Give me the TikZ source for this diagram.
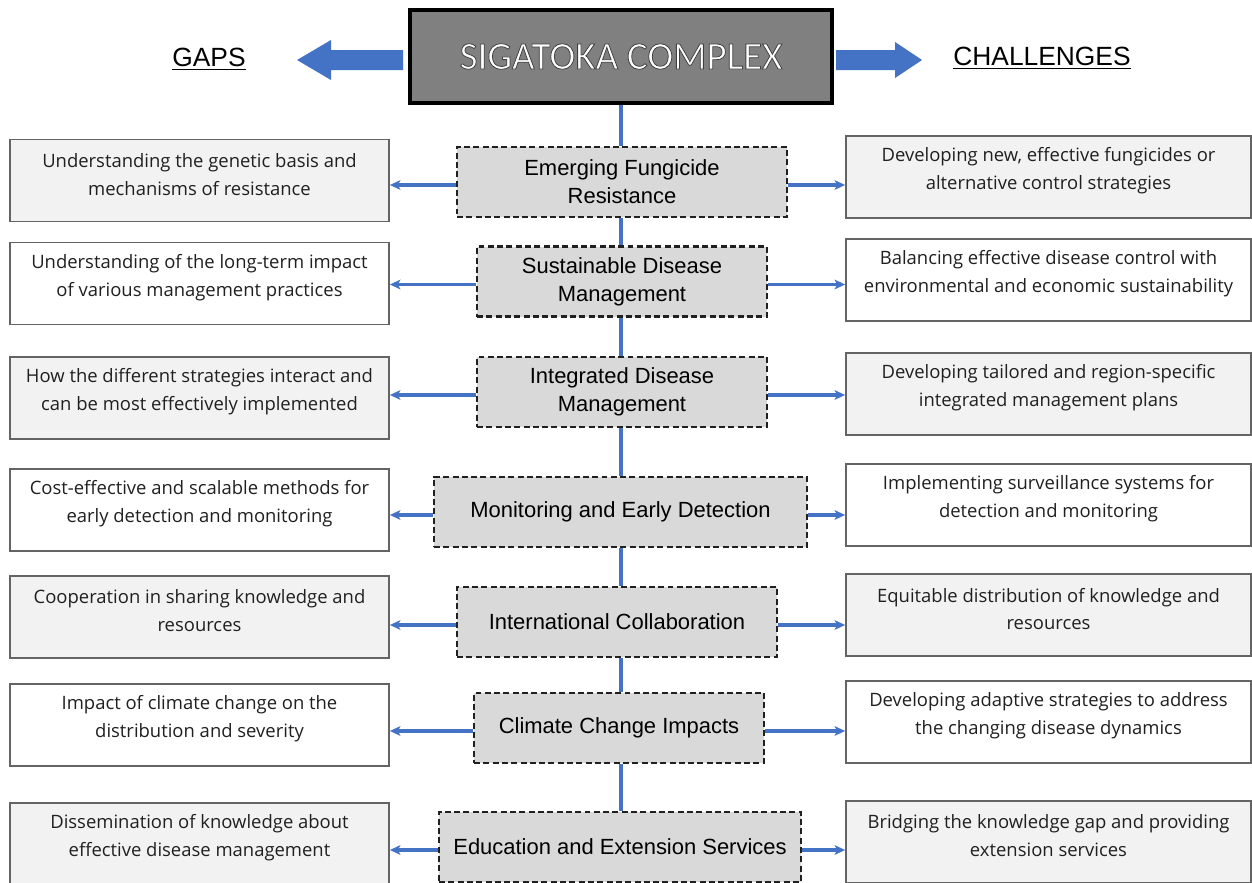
\documentclass[tikz,border=0pt]{standalone}
\usepackage{fontspec}
\setmainfont{Liberation Sans}
\newfontfamily\sidefont{Open Sans}
\newfontfamily\titlefont{Carlito}
\usetikzlibrary{arrows.meta}

\definecolor{linkblue}{HTML}{4472C4}
\definecolor{boxgray}{HTML}{F2F2F2}
\definecolor{stagegray}{HTML}{D9D9D9}
\definecolor{titlegray}{HTML}{808080}
\definecolor{edgegray}{HTML}{646464}
\definecolor{inkdark}{HTML}{202020}

% outlined lettering: fill with the current colour, stroke in dark grey
\newcommand\outlinedtext[1]{\special{pdf:literal 2 Tr 0.45 w 0.25 G}#1\special{pdf:literal 0 Tr}}

\tikzset{
  sidebox/.style 2 args={draw=edgegray, line width=1pt, fill=#1,
    minimum width={#2*0.02cm}, minimum height={82*0.02cm}, inner sep=0pt},
  sidetxt/.style={font=\sidefont\fontsize{10.5}{15.9}\selectfont, text=inkdark,
    align=center, inner sep=0pt},
  stagebox/.style={draw=inkdark, line width=1.3pt, dash pattern=on 3.4pt off 1.9pt,
    fill=stagegray, minimum height={70*0.02cm}, inner sep=0pt, align=center,
    font=\fontsize{12.5}{15.9}\selectfont, text=black},
  vlink/.style={linkblue, line width=2pt},
  hlink/.style={linkblue, line width=1.8pt, -{Stealth[length=6pt, width=5.5pt, inset=1.5pt]}},
  bigarrow/.style={fill=linkblue, draw=none},
  headtxt/.style={font=\fontsize{15}{18}\selectfont, text=black, inner sep=0pt},
}

\begin{document}
\begin{tikzpicture}[x=0.02cm, y=-0.02cm]
\useasboundingbox (0,0) rectangle (1252,883);
\fill[white] (0,0) rectangle (1252,883);

% title block
\node[draw=black, line width=1.8pt, fill=titlegray, minimum width={422*0.02cm},
      minimum height={93*0.02cm}, inner sep=0pt] (top) at (621,56.5) {};
\node[font=\titlefont\fontsize{22.2}{25}\selectfont, text=white, inner sep=0pt]
  (ttext) at (top.center) {\outlinedtext{SIGATOKA COMPLEX}};

% headings with block arrows
\node[headtxt] (gaps) at (209,59) {\underline{GAPS}};
\node[headtxt] (chal) at (1042,58) {\underline{CHALLENGES}};
\coordinate (la) at (403,60);
\coordinate (ra) at (836,60);
\fill[bigarrow] (la) ++(0,-10) -- ++(-72,0) -- ++(0,-10) -- ++(-34,20) -- ++(34,20)
  -- ++(0,-10) -- ++(72,0) -- cycle;
\fill[bigarrow] (ra) ++(0,-10) -- ++(59,0) -- ++(0,-8) -- ++(27,18) -- ++(-27,18)
  -- ++(0,-8) -- ++(-59,0) -- cycle;

% central stages
\node[stagebox, minimum width={330*0.02cm}] (c1) at (622,182) {Emerging Fungicide\\Resistance};
\node[stagebox, minimum width={290*0.02cm}] (c2) at (622,281.5) {Sustainable Disease\\Management};
\node[stagebox, minimum width={290*0.02cm}] (c3) at (622,392) {Integrated Disease\\Management};
\node[stagebox, minimum width={373*0.02cm}] (c4) at (620.5,512) {Monitoring and Early Detection};
\node[stagebox, minimum width={320*0.02cm}] (c5) at (617,622) {International Collaboration};
\node[stagebox, minimum width={290*0.02cm}] (c6) at (619,728) {Climate Change Impacts};
\node[stagebox, minimum width={362*0.02cm}] (c7) at (620,847) {Education and Extension Services};

% gaps (left)
\node[sidebox={boxgray}{379}] (l1) at (199.5,180.5) {};
\node[sidebox={white}{379}]   (l2) at (199.5,283.5) {};
\node[sidebox={boxgray}{379}] (l3) at (199.5,398) {};
\node[sidebox={white}{379}]   (l4) at (199.5,510) {};
\node[sidebox={boxgray}{379}] (l5) at (199.5,617) {};
\node[sidebox={white}{379}]   (l6) at (199.5,725) {};
\node[sidebox={boxgray}{379}] (l7) at (199.5,844) {};

% challenges (right)
\node[sidebox={boxgray}{405}] (r1) at (1048.5,177) {};
\node[sidebox={white}{405}]   (r2) at (1048.5,280) {};
\node[sidebox={boxgray}{405}] (r3) at (1048.5,394) {};
\node[sidebox={white}{405}]   (r4) at (1048.5,505) {};
\node[sidebox={boxgray}{405}] (r5) at (1048.5,615) {};
\node[sidebox={white}{405}]   (r6) at (1048.5,722) {};
\node[sidebox={boxgray}{405}] (r7) at (1048.5,842) {};

\node[sidetxt] (lt1) at ([yshift=0.12cm]l1.center) {Understanding the genetic basis and\\mechanisms of resistance};
\node[sidetxt] (lt2) at ([yshift=0.12cm]l2.center) {Understanding of the long-term impact\\of various management practices};
\node[sidetxt] (lt3) at ([yshift=0.12cm]l3.center) {How the different strategies interact and\\can be most effectively implemented};
\node[sidetxt] (lt4) at ([yshift=0.12cm]l4.center) {Cost-effective and scalable methods for\\early detection and monitoring};
\node[sidetxt] (lt5) at ([yshift=0.12cm]l5.center) {Cooperation in sharing knowledge and\\resources};
\node[sidetxt] (lt6) at ([yshift=0.12cm]l6.center) {Impact of climate change on the\\distribution and severity};
\node[sidetxt] (lt7) at ([yshift=0.12cm]l7.center) {Dissemination of knowledge about\\effective disease management};

\node[sidetxt] (rt1) at ([yshift=0.12cm]r1.center) {Developing new, effective fungicides or\\alternative control strategies};
\node[sidetxt] (rt2) at ([yshift=0.12cm]r2.center) {Balancing effective disease control with\\environmental and economic sustainability};
\node[sidetxt] (rt3) at ([yshift=0.12cm]r3.center) {Developing tailored and region-specific\\integrated management plans};
\node[sidetxt] (rt4) at ([yshift=0.12cm]r4.center) {Implementing surveillance systems for\\detection and monitoring};
\node[sidetxt] (rt5) at ([yshift=0.12cm]r5.center) {Equitable distribution of knowledge and\\resources};
\node[sidetxt] (rt6) at ([yshift=0.12cm]r6.center) {Developing adaptive strategies to address\\the changing disease dynamics};
\node[sidetxt] (rt7) at ([yshift=0.12cm]r7.center) {Bridging the knowledge gap and providing\\extension services};

% vertical spine
\draw[vlink] (top.south) -- (top.south |- c1.north);
\foreach \a/\b in {1/2, 2/3, 3/4, 4/5, 5/6, 6/7} {
  \draw[vlink] (top.south |- c\a.south) -- (top.south |- c\b.north);
}

% side arrows
\foreach \i in {1,...,7} {
  \draw[hlink] ([yshift=-0.06cm]c\i.west) -- ([yshift=-0.06cm]c\i.west -| l\i.east);
  \draw[hlink] ([yshift=-0.06cm]c\i.east) -- ([yshift=-0.06cm]c\i.east -| r\i.west);
}
\end{tikzpicture}
\end{document}
